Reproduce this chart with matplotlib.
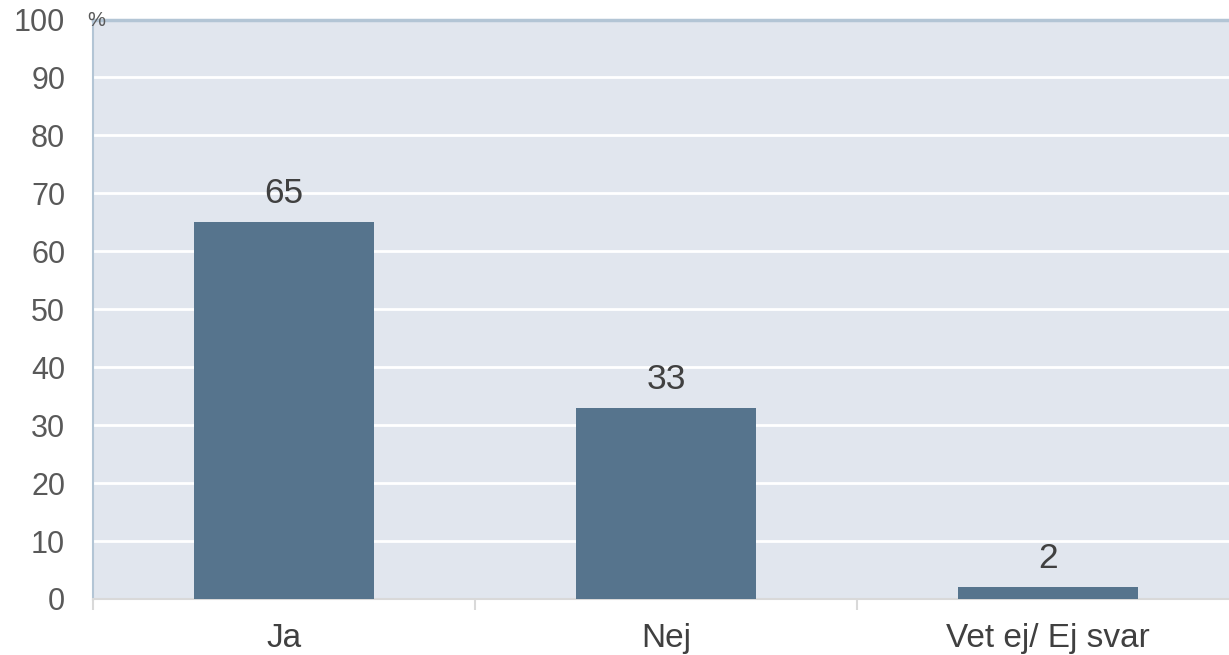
import matplotlib
matplotlib.use("Agg")
import matplotlib.pyplot as plt

categories = ["Ja", "Nej", "Vet ej/ Ej svar"]
values = [65, 33, 2]
yticks = [0, 10, 20, 30, 40, 50, 60, 70, 80, 90, 100]

plt.rcParams['font.family'] = ['Liberation Sans', 'DejaVu Sans']

fig = plt.figure(figsize=(12.29, 6.55), dpi=100)
W, H = 1229, 655
left, right, top, bottom = 93, 1239, 19.5, 599
ax = fig.add_axes([left / W, 1 - bottom / H, (right - left) / W, (bottom - top) / H])
ax.set_facecolor("#e1e6ee")

x = list(range(len(categories)))
ax.bar(x, values, width=0.47, color="#56748d", zorder=3)
for xi, v in zip(x, values):
    ax.text(xi, v + 3.3, str(v), ha="center", va="baseline", fontsize=25.5, color="#404040", zorder=4)

ax.set_xlim(-0.5, len(categories) - 0.5)
ax.set_ylim(0, 100)
ax.set_yticks(yticks)
ax.set_yticklabels([str(t) for t in yticks], fontsize=22, color="#595959")
ax.set_xticks(x)
ax.set_xticklabels(categories, fontsize=24, color="#404040")
ax.tick_params(axis="x", length=0, pad=17)
ax.tick_params(axis="y", length=0, pad=20)
ax.set_xticks([-0.5, 0.5, 1.5, 2.5], minor=True)
ax.tick_params(axis="x", which="minor", length=8, color="#d9d9d9", width=1.5)

ax.grid(axis="y", color="white", linewidth=2, zorder=1)
ax.set_axisbelow(True)

ax.spines["top"].set_color("#b3c5d5")
ax.spines["top"].set_linewidth(2.5)
ax.spines["left"].set_color("#b3c5d5")
ax.spines["left"].set_linewidth(1.5)
ax.spines["right"].set_visible(False)
ax.spines["bottom"].set_color("#d9d9d9")
ax.spines["bottom"].set_linewidth(1.5)

fig.text(87 / W, 1 - 21 / H, "%", fontsize=14.5, color="#595959", ha="left", va="center")

fig.savefig("out.png", dpi=100)
